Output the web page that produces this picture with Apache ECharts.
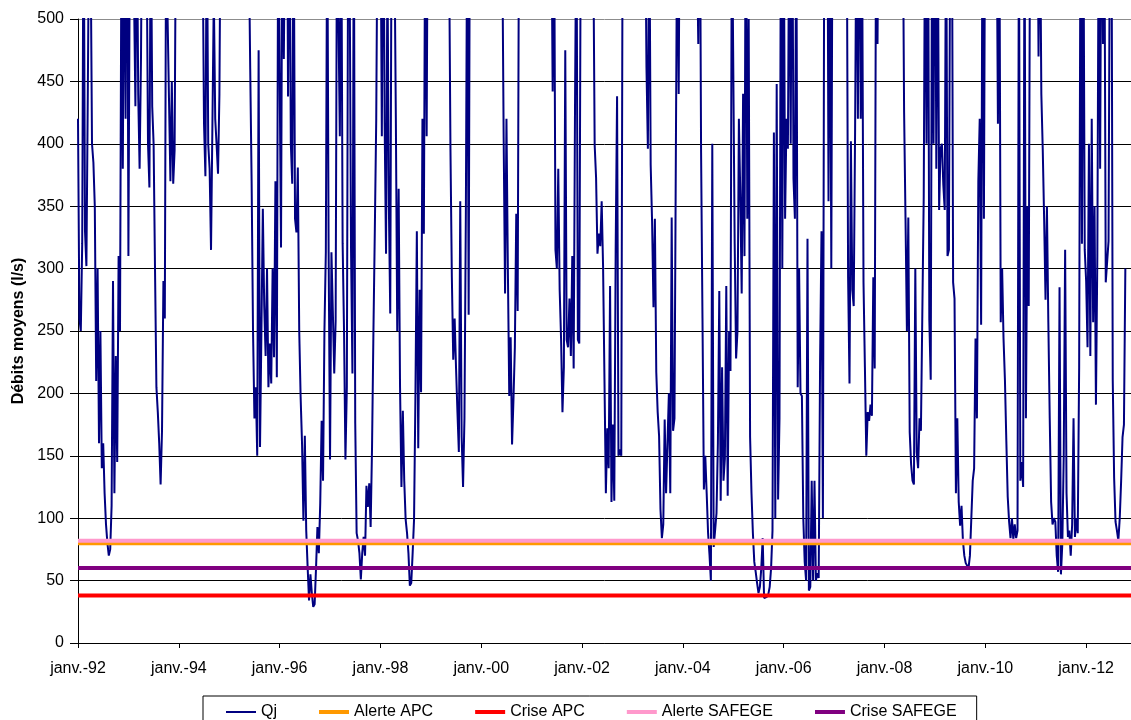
<!DOCTYPE html>
<html><head><meta charset="utf-8">
<script src="https://cdn.jsdelivr.net/npm/echarts@6/dist/echarts.min.js"></script>
<style>html,body{margin:0;padding:0;background:#fff}#c{width:1131px;height:720px}</style>
</head><body><div id="c"></div>
<script>
// Daily mean flow Qj (l/s), every ten days (36 readings per year).
// Values above 500 lie beyond the top of the plot and are clipped there.
const years = [1992,1993,1994,1995,1996,1997,1998,1999,2000,2001,2002,2003,2004,2005,2006,2007,2008,2009,2010,2011,2012];
const q1992 = [420,260,250,320,620,330,302,440,600,560,400,385,350,210,300,160,250,140,160,120,95,80,70,75,110,290,120,230,145,310,250,560,380,600,420,700];
const q1993 = [310,560,650,600,520,430,600,440,380,470,650,700,620,560,400,365,600,430,400,300,205,185,160,127,170,290,260,600,500,435,370,450,368,395,600,650];
const q1994 = [700,750,800,700,650,720,800,760,700,650,700,800,750,700,680,650,600,560,416,374,600,400,380,315,416,520,420,399,376,440,620,700,800,750,700,720];
const q1995 = [800,750,700,760,800,700,650,700,750,800,700,650,620,600,560,460,370,250,180,205,150,475,157,250,348,270,230,300,205,240,208,300,229,370,213,600];
const q1996 = [600,317,620,468,600,700,438,620,400,368,600,340,329,381,250,197,160,98,166,90,61,34,55,40,29,31,60,93,72,112,178,130,250,313,600,313];
const q1997 = [147,313,266,216,258,600,500,406,600,320,250,147,205,600,540,315,216,600,176,88,82,72,51,72,85,70,126,109,128,93,157,250,332,420,600,650];
const q1998 = [600,406,650,416,312,550,352,264,600,650,560,421,250,364,205,125,186,130,99,88,72,46,48,72,99,200,330,156,283,201,420,328,600,406,650,700];
const q1999 = [700,750,800,760,700,650,700,800,750,700,650,620,600,560,396,293,227,260,220,185,153,354,165,125,180,344,600,263,650,700,750,800,700,650,700,750];
const q2000 = [800,750,700,650,700,760,800,700,650,700,750,800,700,650,600,560,405,280,420,300,198,245,159,195,237,344,266,600,650,700,750,800,760,700,650,700];
const q2001 = [750,800,700,650,700,760,800,700,650,700,750,800,700,650,600,442,600,315,300,380,283,244,185,221,475,243,237,276,230,310,220,438,600,243,240,560];
const q2002 = [600,650,700,750,800,700,650,600,560,399,373,312,328,318,354,302,211,120,172,140,286,113,175,114,315,438,150,155,150,600,650,700,750,800,700,650];
const q2003 = [700,750,800,700,650,700,750,800,700,600,461,396,600,383,338,269,340,217,185,166,107,84,95,179,120,120,200,120,341,170,180,396,600,440,650,700];
const q2004 = [750,800,700,650,700,750,800,700,650,600,560,480,650,393,260,123,150,120,88,71,50,400,77,90,104,160,282,114,221,130,148,286,118,250,218,600];
const q2005 = [600,320,228,250,420,360,280,440,310,650,340,500,165,120,88,65,57,48,40,45,60,84,36,35,37,39,45,60,90,409,100,448,115,180,600,300];
const q2006 = [600,340,420,396,600,400,650,372,340,600,205,300,200,198,100,65,50,324,42,45,130,50,130,50,56,52,227,330,100,600,650,700,354,600,300,650];
const q2007 = [700,750,800,700,650,700,750,800,700,600,293,208,402,283,270,412,600,420,650,420,560,289,221,150,185,178,191,182,293,220,600,480,650,700,750,800];
const q2008 = [750,700,650,700,800,750,700,650,700,760,800,700,650,600,425,340,250,341,169,143,130,127,300,153,140,180,170,263,357,600,400,650,259,211,600,400];
const q2009 = [650,380,600,347,396,400,367,347,600,310,315,600,650,289,276,120,180,113,94,110,82,70,64,64,60,70,100,130,140,244,180,370,420,255,600,340];
const q2010 = [650,700,750,800,700,650,700,750,600,416,600,257,300,244,211,162,117,97,84,100,83,95,84,90,600,130,145,125,600,180,350,270,600,650,700,750];
const q2011 = [700,650,470,600,440,396,340,275,350,257,180,113,95,100,97,70,57,285,55,80,150,315,120,85,90,70,95,180,85,100,88,220,600,320,600,315];
const q2012 = [290,237,400,230,420,257,350,191,310,600,380,650,480,600,289,290,322,600,650,211,132,97,90,82,100,130,165,175,300];
const qjByYear = [q1992,q1993,q1994,q1995,q1996,q1997,q1998,q1999,q2000,q2001,q2002,q2003,q2004,q2005,q2006,q2007,q2008,q2009,q2010,q2011,q2012];
const readingsPerYear = 36;

// Thresholds (l/s)
const alerteAPC = 80;
const criseAPC = 38;
const alerteSAFEGE = 82;
const criseSAFEGE = 60;

// Axes
const xStart = 1992;
const xEnd = 2012.89;
const xTickYears = [1992,1994,1996,1998,2000,2002,2004,2006,2008,2010,2012];
const yMin = 0, yMax = 500, yStep = 50;

const qj = [];
years.forEach((y, i) => qjByYear[i].forEach((v, k) => qj.push([y + k / readingsPerYear, v])));
const flat = v => [[xStart, v], [xEnd, v]];

const FONT = "'Liberation Sans', Arial, sans-serif";
const chart = echarts.init(document.getElementById('c'), null, {renderer: 'canvas'});
const gridColors = [];
for (let v = yMin; v <= yMax; v += yStep) gridColors.push(v === yMax ? '#8c8c8c' : '#000');

const noSymbol = {color: 'transparent', borderWidth: 0, opacity: 0};
chart.setOption({
  animation: false,
  backgroundColor: '#fff',
  textStyle: {fontFamily: FONT},
  grid: {left: 78, top: 19, right: 0, bottom: 77},
  xAxis: {
    type: 'value', min: xStart, max: xEnd,
    axisLine: {show: true, lineStyle: {color: '#000', width: 1}},
    axisTick: {show: true, length: 5, lineStyle: {color: '#000'}, customValues: xTickYears},
    axisLabel: {
      customValues: xTickYears, margin: 18, fontSize: 16, color: '#000', fontFamily: FONT,
      formatter: v => 'janv.-' + String(Math.round(v) % 100).padStart(2, '0')
    },
    splitLine: {show: false}
  },
  yAxis: {
    type: 'value', min: yMin, max: yMax, interval: yStep,
    name: 'Débits moyens (l/s)', nameLocation: 'middle', nameRotate: 90, nameGap: 40,
    nameTextStyle: {fontWeight: 'bold', fontSize: 16, color: '#000', fontFamily: FONT},
    axisLine: {show: true, lineStyle: {color: '#000', width: 1}},
    axisTick: {show: true, length: 8, lineStyle: {color: '#000'}},
    axisLabel: {margin: 14, fontSize: 16, color: '#000', fontFamily: FONT},
    splitLine: {show: true, lineStyle: {color: gridColors, width: 1}}
  },
  legend: {
    left: 203, top: 696, orient: 'horizontal',
    padding: [8, 20, 7, 22], itemGap: 40, itemWidth: 30, itemHeight: 14,
    borderColor: '#000', borderWidth: 1, backgroundColor: '#fff',
    textStyle: {fontSize: 16, color: '#000', fontFamily: FONT},
    itemStyle: noSymbol,
    data: [
      {name: 'Qj', itemStyle: noSymbol, lineStyle: {color: '#000080', width: 2}},
      {name: 'Alerte APC', itemStyle: noSymbol, lineStyle: {color: '#FF9900', width: 4}},
      {name: 'Crise APC', itemStyle: noSymbol, lineStyle: {color: '#FF0000', width: 4}},
      {name: 'Alerte SAFEGE', itemStyle: noSymbol, lineStyle: {color: '#FF99CC', width: 4}},
      {name: 'Crise SAFEGE', itemStyle: noSymbol, lineStyle: {color: '#800080', width: 4}}
    ]
  },
  series: [
    {name: 'Qj', type: 'line', data: qj, showSymbol: false, symbol: 'none', clip: true,
     color: '#000080', lineStyle: {color: '#000080', width: 2}},
    {name: 'Alerte APC', type: 'line', data: flat(alerteAPC), symbol: 'none', color: '#FF9900', lineStyle: {color: '#FF9900', width: 4}},
    {name: 'Crise APC', type: 'line', data: flat(criseAPC), symbol: 'none', color: '#FF0000', lineStyle: {color: '#FF0000', width: 4}},
    {name: 'Alerte SAFEGE', type: 'line', data: flat(alerteSAFEGE), symbol: 'none', color: '#FF99CC', lineStyle: {color: '#FF99CC', width: 4}},
    {name: 'Crise SAFEGE', type: 'line', data: flat(criseSAFEGE), symbol: 'none', color: '#800080', lineStyle: {color: '#800080', width: 4}}
  ]
});
</script>
</body></html>
